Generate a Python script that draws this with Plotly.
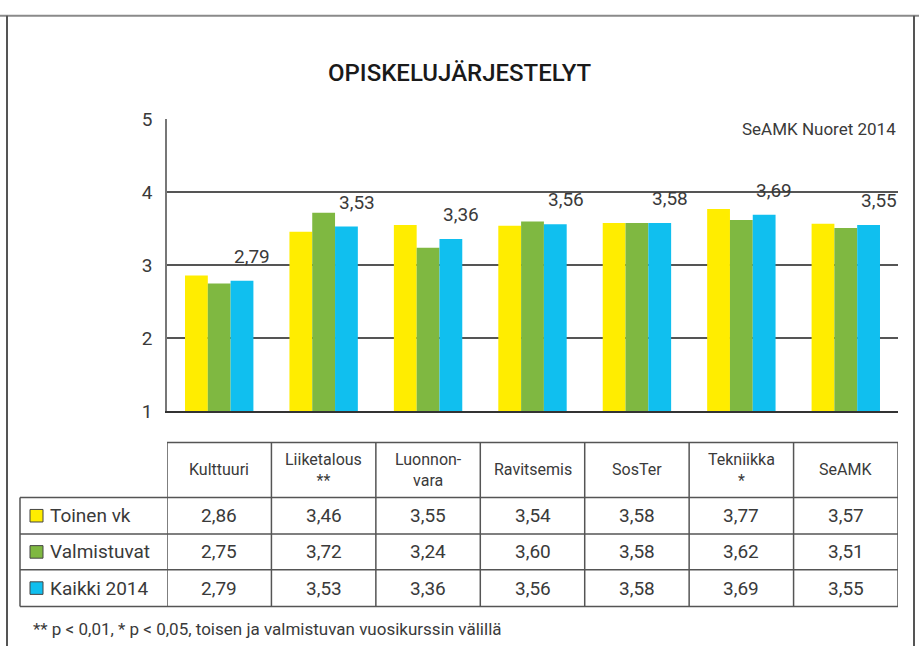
import plotly.graph_objects as go

categories = ["Kulttuuri", "Liiketalous", "Luonnonvara", "Ravitsemis", "SosTer", "Tekniikka", "SeAMK"]
header_labels = ["Kulttuuri", "Liiketalous<br>**", "Luonnon-<br>vara", "Ravitsemis", "SosTer", "Tekniikka<br>*", "SeAMK"]
series_names = ["Toinen vk", "Valmistuvat", "Kaikki 2014"]
toinen_vk = [2.86, 3.46, 3.55, 3.54, 3.58, 3.77, 3.57]
valmistuvat = [2.75, 3.72, 3.24, 3.60, 3.58, 3.62, 3.51]
kaikki_2014 = [2.79, 3.53, 3.36, 3.56, 3.58, 3.69, 3.55]
series_values = [toinen_vk, valmistuvat, kaikki_2014]
colors = ["#FFED00", "#7FB841", "#10BFEF"]
y_ticks = [1, 2, 3, 4, 5]

W, H = 919, 658
def py(p):
    return 1 - p / H
def px(p):
    return p / W

FONT = "Roboto"
TXT = "#3a3a3a"
LINE = "#555555"

fig = go.Figure()
for name, vals, col in zip(series_names, series_values, colors):
    fig.add_trace(go.Bar(x=categories, y=vals, name=name, marker=dict(color=col, line=dict(width=0)),
                         hoverinfo="x+y"))

def fmt(v):
    return f"{v:.2f}".replace(".", ",")

annotations = []
for c, v in zip(categories, kaikki_2014):
    annotations.append(dict(x=c, y=v, xref="x", yref="y", text=fmt(v), showarrow=False,
                            xanchor="center", yanchor="bottom", xshift=33, yshift=11,
                            font=dict(family=FONT, size=19, color=TXT)))

annotations.append(dict(x=0.5, y=py(64), xref="paper", yref="paper", text="OPISKELUJÄRJESTELYT",
                        showarrow=False, xanchor="center", yanchor="middle",
                        font=dict(family=FONT, size=24, color="#1a1a1a", weight=500)))
annotations.append(dict(x=px(898), y=py(122), xref="paper", yref="paper", text="SeAMK Nuoret 2014",
                        showarrow=False, xanchor="right", yanchor="middle",
                        font=dict(family=FONT, size=17, color=TXT)))

hdr_top, hdr_bot = 447, 504
row_bounds = [504, 542, 579, 617]
table_left = 20

for c, h in zip(categories, header_labels):
    annotations.append(dict(x=c, y=py((hdr_top + hdr_bot) / 2), xref="x", yref="paper", text=h,
                            showarrow=False, xanchor="center", yanchor="middle",
                            font=dict(family=FONT, size=16, color=TXT)))
shapes = []
for r, (name, vals, col) in enumerate(zip(series_names, series_values, colors)):
    yc = (row_bounds[r] + row_bounds[r + 1]) / 2
    for c, v in zip(categories, vals):
        annotations.append(dict(x=c, y=py(yc), xref="x", yref="paper", text=fmt(v),
                                showarrow=False, xanchor="center", yanchor="middle",
                                font=dict(family=FONT, size=19, color=TXT)))
    annotations.append(dict(x=px(48), y=py(yc), xref="paper", yref="paper", text=name,
                            showarrow=False, xanchor="left", yanchor="middle",
                            font=dict(family=FONT, size=19, color=TXT)))
    shapes.append(dict(type="rect", xref="paper", yref="paper", x0=px(30), x1=px(43),
                       y0=py(yc + 6.5), y1=py(yc - 6.5), fillcolor=col,
                       line=dict(color="#444444", width=1)))

annotations.append(dict(x=px(31), y=py(640), xref="paper", yref="paper",
                        text="** p < 0,01, * p < 0,05, toisen ja valmistuvan vuosikurssin välillä",
                        showarrow=False, xanchor="left", yanchor="middle",
                        font=dict(family=FONT, size=17, color=TXT)))

n = len(categories)
for i in range(n + 1):
    shapes.append(dict(type="line", xref="x", yref="paper", x0=i - 0.5, x1=i - 0.5,
                       y0=py(hdr_top), y1=py(row_bounds[-1]), line=dict(color=LINE, width=1.5)))
shapes.append(dict(type="line", xref="paper", yref="paper", x0=px(table_left), x1=px(table_left),
                   y0=py(row_bounds[0]), y1=py(row_bounds[-1]), line=dict(color=LINE, width=1.5)))
shapes.append(dict(type="line", xref="x", yref="paper", x0=-0.5, x1=n - 0.5,
                   y0=py(hdr_top), y1=py(hdr_top), line=dict(color=LINE, width=1.5)))
for yb in row_bounds:
    shapes.append(dict(type="line", xref="paper", yref="paper", x0=px(table_left), x1=px(898),
                       y0=py(yb), y1=py(yb), line=dict(color=LINE, width=1.5)))

frame = "#8a8a8a"
shapes.append(dict(type="line", xref="paper", yref="paper", x0=0, x1=1, y0=py(5), y1=py(5),
                   line=dict(color=frame, width=2)))
shapes.append(dict(type="line", xref="paper", yref="paper", x0=px(7), x1=px(7), y0=py(5), y1=0,
                   line=dict(color="#555", width=2)))
shapes.append(dict(type="line", xref="paper", yref="paper", x0=px(914), x1=px(914), y0=py(5), y1=0,
                   line=dict(color="#555", width=2)))

fig.update_layout(
    width=W, height=H,
    margin=dict(l=0, r=0, t=0, b=0),
    paper_bgcolor="white", plot_bgcolor="white",
    barmode="group", bargap=0.345, bargroupgap=0,
    showlegend=False,
    font=dict(family=FONT, color=TXT),
    xaxis=dict(domain=[px(167), px(898)], showticklabels=False, ticks="", showgrid=False,
               showline=True, linecolor="#333", linewidth=1.5, zeroline=False,
               range=[-0.5, n - 0.5]),
    yaxis=dict(domain=[py(415), py(112)], range=[1, 5], tickvals=y_ticks,
               ticktext=[str(t) for t in y_ticks], showgrid=True, gridcolor=LINE, gridwidth=1.5,
               showline=True, linecolor="#777", linewidth=1.5, zeroline=False, ticks="",
               ticklabelstandoff=9, tickfont=dict(family=FONT, size=19, color=TXT)),
    annotations=annotations,
    shapes=shapes,
)

fig.write_html("out.html", config={"displayModeBar": False},
               post_script="document.body.style.margin='0';document.body.style.overflow='hidden';")
